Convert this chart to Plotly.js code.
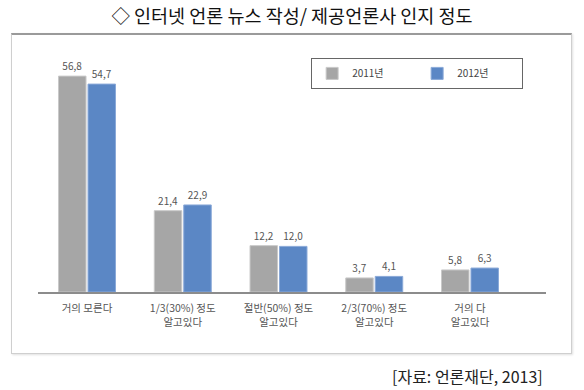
<!DOCTYPE html>
<html>
<head>
<meta charset="utf-8">
<script src="https://cdn.plot.ly/plotly-3.0.1.min.js"></script>
<style>
  html, body { margin: 0; padding: 0; background: #fff; }
  #wrap { position: relative; width: 584px; height: 390px; }
  #frame { position: absolute; left: 11px; top: 33px; width: 559px; height: 318px;
           border: 1px solid #cfcfcf; border-top: 2px solid #9a9a9a;
           box-shadow: 1px 1px 2px rgba(0,0,0,0.12); }
  #chart { position: absolute; left: 0; top: 0; width: 584px; height: 390px; }
</style>
</head>
<body>
<div id="wrap">
  <div id="frame"></div>
  <div id="chart"></div>
</div>
<script>
const categories = ["거의 모른다", "1/3(30%) 정도<br>알고있다", "절반(50%) 정도<br>알고있다", "2/3(70%) 정도<br>알고있다", "거의 다<br>알고있다"];
const series2011 = [56.8, 21.4, 12.2, 3.7, 5.8];
const series2012 = [54.7, 22.9, 12.0, 4.1, 6.3];
const seriesNames = ["2011년", "2012년"];
const titleText = "◇ 인터넷 언론 뉴스 작성/ 제공언론사 인지 정도";
const sourceText = "[자료: 언론재단, 2013]";

const font = "Noto Sans CJK KR, Noto Sans, sans-serif";

const traces = [
  {
    type: "bar", name: seriesNames[0], x: categories, y: series2011,
    marker: { color: "#a6a6a6", line: { color: "#c9c9c9", width: 1 } },
    texttemplate: "%{y:.1f}", textposition: "outside",
    textfont: { size: 10, color: "#555", family: font }, cliponaxis: false
  },
  {
    type: "bar", name: seriesNames[1], x: categories, y: series2012,
    marker: { color: "#5b87c5", line: { color: "#8aa9d8", width: 1 } },
    texttemplate: "%{y:.1f}", textposition: "outside",
    textfont: { size: 10, color: "#555", family: font }, cliponaxis: false
  }
];

const layout = {
  width: 584, height: 390,
  margin: { l: 38, r: 38, t: 40, b: 98, autoexpand: false },
  paper_bgcolor: "rgba(0,0,0,0)", plot_bgcolor: "rgba(0,0,0,0)",
  separators: ", ",
  font: { family: font, color: "#555", size: 10 },
  title: { text: titleText, x: 0.5, xanchor: "center", y: 1 - 17/390, yanchor: "middle", yref: "container",
           font: { size: 18.5, color: "#111", family: font } },
  barmode: "group", bargap: 0.384, bargroupgap: 0.068,
  xaxis: { type: "category", range: [-0.512, 4.794], autorange: false, showline: true, linecolor: "#8c8c8c", linewidth: 1.5,
           ticks: "", ticklabelstandoff: 6, showgrid: false, zeroline: false,
           tickfont: { size: 10.5, color: "#555", family: font } },
  yaxis: { range: [0, 66.3], autorange: false, visible: false, showgrid: false, zeroline: false },
  showlegend: true,
  legend: { orientation: "h", x: 0.955, y: 0.929, xanchor: "right", yanchor: "top",
            bordercolor: "#666", borderwidth: 1, bgcolor: "#fff",
            font: { size: 10, color: "#444", family: font }, entrywidth: 60, entrywidthmode: "pixels",
            itemwidth: 30 },
  annotations: [
    { text: sourceText, xref: "paper", yref: "paper", x: 0.998, y: -0.333, xanchor: "right", yanchor: "middle",
      showarrow: false, font: { size: 16, color: "#222", family: font } }
  ]
};

Plotly.newPlot("chart", traces, layout, { displayModeBar: false, staticPlot: true });
</script>
</body>
</html>
